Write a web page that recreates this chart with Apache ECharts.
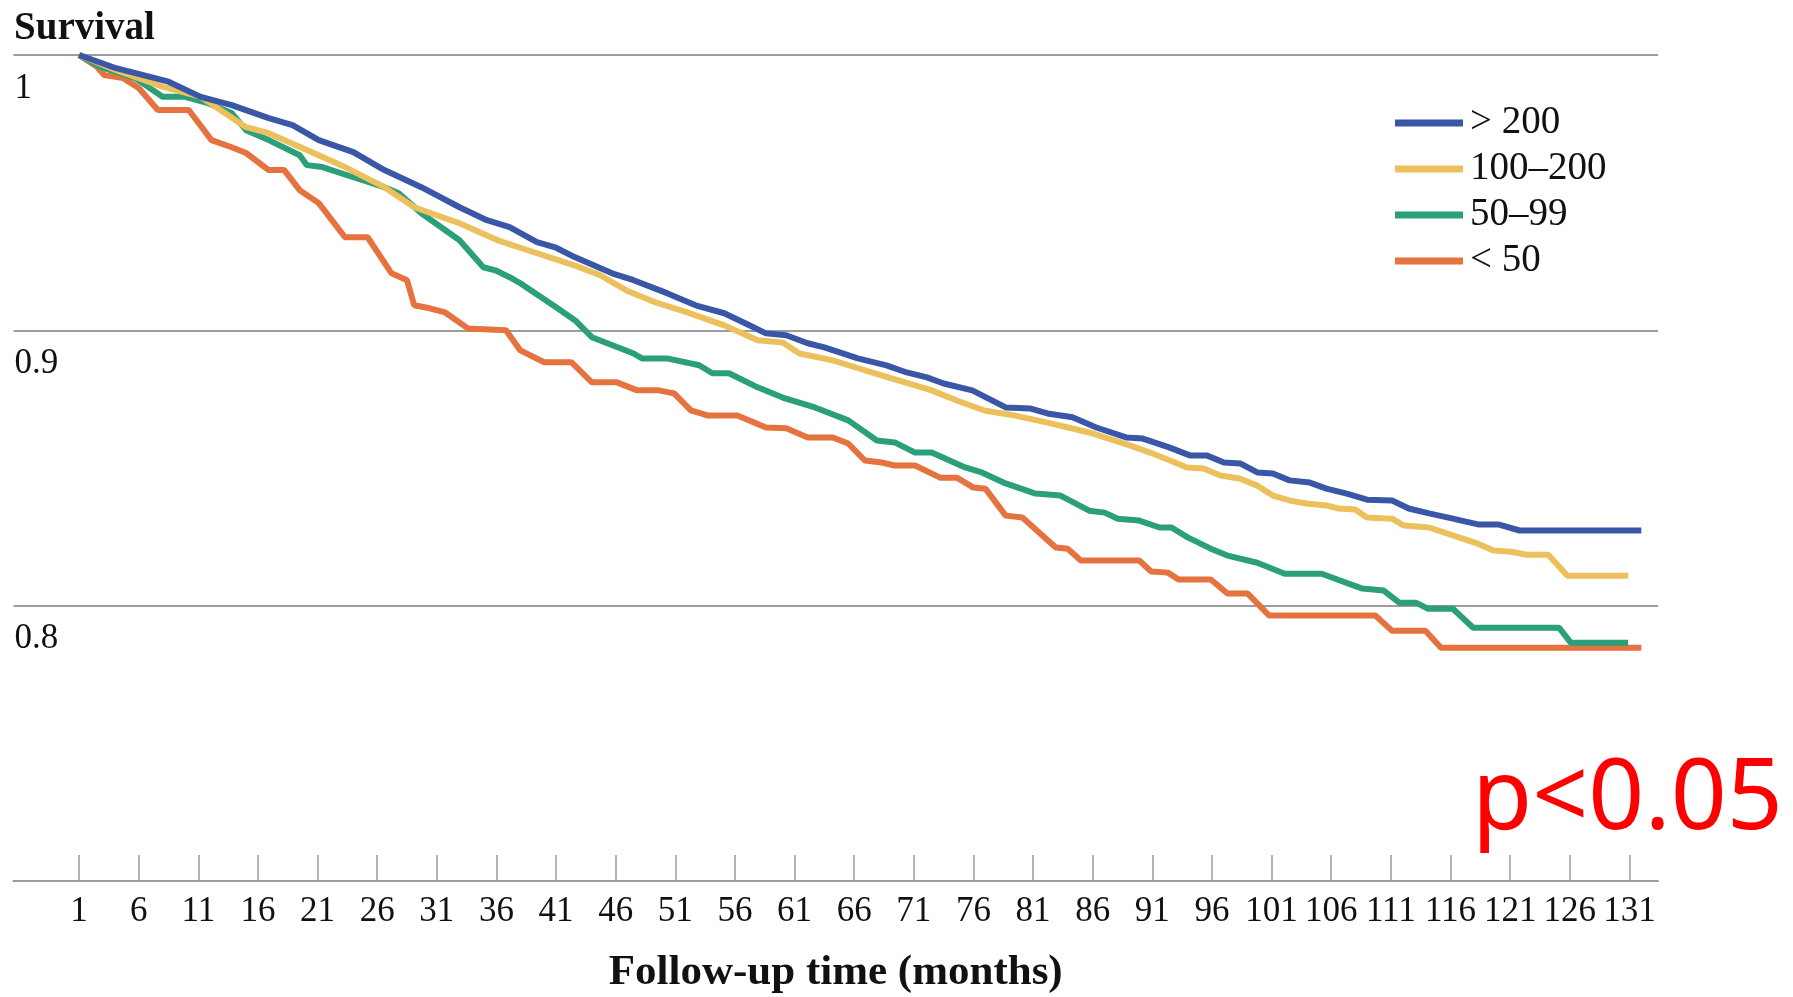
<!DOCTYPE html>
<html>
<head>
<meta charset="utf-8">
<script src="https://cdn.jsdelivr.net/npm/echarts@6/dist/echarts.min.js"></script>
<style>
html,body{margin:0;padding:0;background:#fff;}
#chart{width:1793px;height:997px;}
</style>
</head>
<body>
<div id="chart"></div>
<script>
// ---- data (months, survival) ----
const seriesNames = ['> 200', '100\u2013200', '50\u201399', '< 50'];
const xTickLabels = [1,6,11,16,21,26,31,36,41,46,51,56,61,66,71,76,81,86,91,96,101,106,111,116,121,126,131];
const yTickLabels = [0.8, 0.9, 1];

const over200 = [[1,1.0],[4.1,0.9952],[8.5,0.9903],[11.2,0.9848],[13.8,0.9818],[16.9,0.9771],[18.9,0.9745],[21.1,0.9691],[24.0,0.9647],[26.6,0.9582],[29.7,0.952],[32.9,0.9447],[35.2,0.94],[37.1,0.9375],[39.4,0.932],[41.0,0.930],[42.6,0.9265],[45.7,0.9207],[47.5,0.9182],[50.3,0.9135],[52.7,0.9091],[55.1,0.9062],[56.9,0.9025],[58.6,0.8989],[60.3,0.8982],[62.1,0.8953],[63.5,0.8938],[66.3,0.8898],[68.7,0.8873],[70.4,0.8847],[72.1,0.8829],[73.5,0.8807],[75.9,0.8782],[78.7,0.872],[80.8,0.8716],[82.2,0.8698],[84.3,0.8684],[86.3,0.8647],[88.8,0.8611],[90.2,0.8607],[92.4,0.8575],[94.2,0.8545],[95.6,0.8545],[97.0,0.852],[98.4,0.8516],[99.8,0.8484],[101.1,0.848],[102.5,0.8455],[104.2,0.8447],[105.6,0.8425],[107.3,0.8407],[109.0,0.8385],[111.1,0.8382],[112.5,0.8353],[114.2,0.8335],[116.2,0.8316],[118.3,0.8295],[120.0,0.8295],[121.8,0.8273],[132,0.8273]];

const from100to200 = [[1,1.0],[4.1,0.9945],[8.0,0.9885],[11.2,0.9848],[15.0,0.9738],[16.9,0.9716],[20.1,0.9655],[23.3,0.9593],[26.6,0.952],[29.1,0.9447],[32.9,0.9389],[36.1,0.9327],[39.4,0.928],[42.6,0.9235],[44.7,0.92],[46.9,0.9145],[49.3,0.9102],[52.0,0.9065],[55.1,0.9018],[57.9,0.8964],[60.0,0.8956],[61.4,0.8916],[64.2,0.8891],[66.9,0.8855],[69.7,0.8818],[72.5,0.8782],[74.6,0.8745],[76.9,0.8709],[79.4,0.8691],[82.2,0.8665],[85.7,0.8629],[89.1,0.8582],[90.8,0.8556],[92.9,0.852],[93.9,0.8502],[95.3,0.8498],[96.7,0.8473],[98.3,0.8462],[99.8,0.8436],[101.1,0.84],[102.5,0.8382],[103.9,0.8371],[105.6,0.8364],[106.6,0.8353],[108.0,0.8349],[109.0,0.832],[111.1,0.8316],[112.1,0.8291],[114.2,0.8284],[116.2,0.8255],[118.3,0.8225],[119.6,0.82],[121.1,0.8196],[122.4,0.8185],[124.2,0.8185],[125.8,0.8109],[130.9,0.8109]];

const from50to99 = [[1,1.0],[2.8,0.9957],[5.7,0.9916],[8.0,0.9848],[9.9,0.9848],[11.8,0.9825],[13.8,0.9789],[15.0,0.9727],[16.9,0.9691],[19.5,0.9636],[20.1,0.96],[21.4,0.9593],[24.0,0.9556],[26.6,0.952],[27.8,0.9498],[29.7,0.9425],[32.9,0.9327],[34.9,0.9229],[35.9,0.9218],[37.1,0.9193],[38.0,0.9171],[41.0,0.9084],[42.6,0.9036],[44.0,0.8975],[47.5,0.8916],[48.2,0.8898],[50.3,0.8898],[53.0,0.8873],[54.1,0.8844],[55.5,0.8844],[57.9,0.8793],[60.0,0.8756],[62.7,0.872],[65.5,0.8673],[67.9,0.86],[69.4,0.8593],[71.1,0.8556],[72.5,0.8556],[75.3,0.8502],[76.7,0.8484],[78.7,0.8444],[81.2,0.8407],[83.3,0.84],[85.7,0.8345],[87.0,0.8338],[88.1,0.8316],[89.9,0.8309],[91.6,0.8284],[92.6,0.8284],[94.0,0.8247],[95.9,0.8207],[97.3,0.8182],[99.8,0.8156],[102.1,0.8116],[105.2,0.8116],[108.6,0.8062],[110.4,0.8055],[111.7,0.8011],[113.1,0.8011],[114.1,0.7989],[116.2,0.7989],[117.9,0.792],[125.1,0.792],[126.1,0.7865],[130.9,0.7865]];

const under50 = [[1,1.0],[2.5,0.9957],[3.1,0.9927],[4.7,0.9916],[6.0,0.988],[7.6,0.98],[10.2,0.98],[12.1,0.9691],[13.8,0.9665],[15.0,0.9644],[16.9,0.9582],[18.2,0.9582],[19.5,0.9509],[21.1,0.9462],[23.3,0.9338],[25.2,0.9338],[27.2,0.9207],[28.5,0.9182],[29.1,0.9091],[30.4,0.908],[31.7,0.9065],[33.6,0.9007],[36.8,0.9],[38.0,0.8927],[40.0,0.8884],[42.3,0.8884],[44.0,0.8811],[46.1,0.8811],[47.8,0.8782],[49.6,0.8782],[50.9,0.8771],[52.3,0.8709],[53.7,0.8691],[56.2,0.8691],[58.6,0.8647],[60.3,0.8644],[62.1,0.8611],[64.2,0.8611],[65.5,0.8589],[66.9,0.8527],[68.3,0.852],[69.4,0.8509],[71.1,0.8509],[73.2,0.8465],[74.6,0.8465],[76.0,0.8429],[77.0,0.8425],[78.7,0.8327],[80.1,0.832],[82.9,0.8211],[83.9,0.8207],[85.0,0.8164],[89.9,0.8164],[90.9,0.8124],[92.3,0.812],[93.2,0.8095],[95.9,0.8095],[97.3,0.8044],[99.0,0.8044],[100.8,0.7964],[109.7,0.7964],[111.1,0.7909],[113.9,0.7909],[115.2,0.7847],[132,0.7847]];

const seriesData = [over200, from100to200, from50to99, under50];
const seriesColors = ['#3a56a6', '#ecc05c', '#2a9f79', '#e6723f'];
const seriesZ = [6, 5, 4, 3];

// ---- chart ----
const chart = echarts.init(document.getElementById('chart'), null, {renderer: 'canvas'});
const serif = '"Liberation Serif", "Times New Roman", serif';
const gray = '#9c9c9c';

chart.setOption({
  animation: false,
  backgroundColor: '#ffffff',
  title: [
    {
      text: 'Survival',
      left: 14, top: 8, padding: 0,
      textStyle: {fontFamily: serif, fontWeight: 'bold', fontSize: 39, color: '#111', lineHeight: 41}
    },
    {
      text: 'p<0.05',
      left: 1472, top: 752, padding: 0,
      textStyle: {fontFamily: '"Noto Sans", "Open Sans", sans-serif', fontWeight: 'normal', fontSize: 98, color: '#ff0000', lineHeight: 98}
    }
  ],
  legend: {
    data: seriesNames,
    orient: 'vertical',
    left: 1390, top: 98,
    icon: 'rect',
    itemWidth: 68, itemHeight: 7,
    itemGap: 6,
    textStyle: {fontFamily: serif, fontSize: 39, color: '#111', lineHeight: 40, padding: [0,0,0,2]}
  },
  grid: {left: 13.5, right: 135, top: 55, bottom: 116, outerBoundsMode: 'none'},
  xAxis: {
    type: 'value',
    min: -4.5, max: 133.4,
    name: 'Follow-up time (months)',
    nameLocation: 'middle',
    nameGap: 70,
    nameTextStyle: {fontFamily: serif, fontWeight: 'bold', fontSize: 43, color: '#111', lineHeight: 43},
    axisLine: {show: true, onZero: false, lineStyle: {color: gray, width: 2}},
    axisTick: {show: true, inside: true, length: 26, customValues: xTickLabels, lineStyle: {color: gray, width: 1.5}},
    axisLabel: {customValues: xTickLabels, margin: 13, fontFamily: serif, fontSize: 35, color: '#111', lineHeight: 35, verticalAlign: 'top'},
    splitLine: {show: false}
  },
  yAxis: {
    type: 'value',
    min: 0.7, max: 1.0, interval: 0.1,
    axisLine: {show: false},
    axisTick: {show: false},
    axisLabel: {
      customValues: yTickLabels,
      inside: true, margin: 1, align: 'left', verticalAlign: 'top',
      padding: [16, 0, 0, 0],
      fontFamily: serif, fontSize: 35, color: '#111', lineHeight: 35,
      formatter: function (v) { return Math.abs(v - 1) < 1e-9 ? '1' : v.toFixed(1); }
    },
    splitLine: {show: true, lineStyle: {color: gray, width: 2}}
  },
  series: seriesNames.map(function (name, i) {
    return {
      name: name,
      type: 'line',
      data: seriesData[i],
      symbol: 'none',
      z: seriesZ[i],
      color: seriesColors[i],
      lineStyle: {color: seriesColors[i], width: 6},
      emphasis: {disabled: true}
    };
  })
});
</script>
</body>
</html>
